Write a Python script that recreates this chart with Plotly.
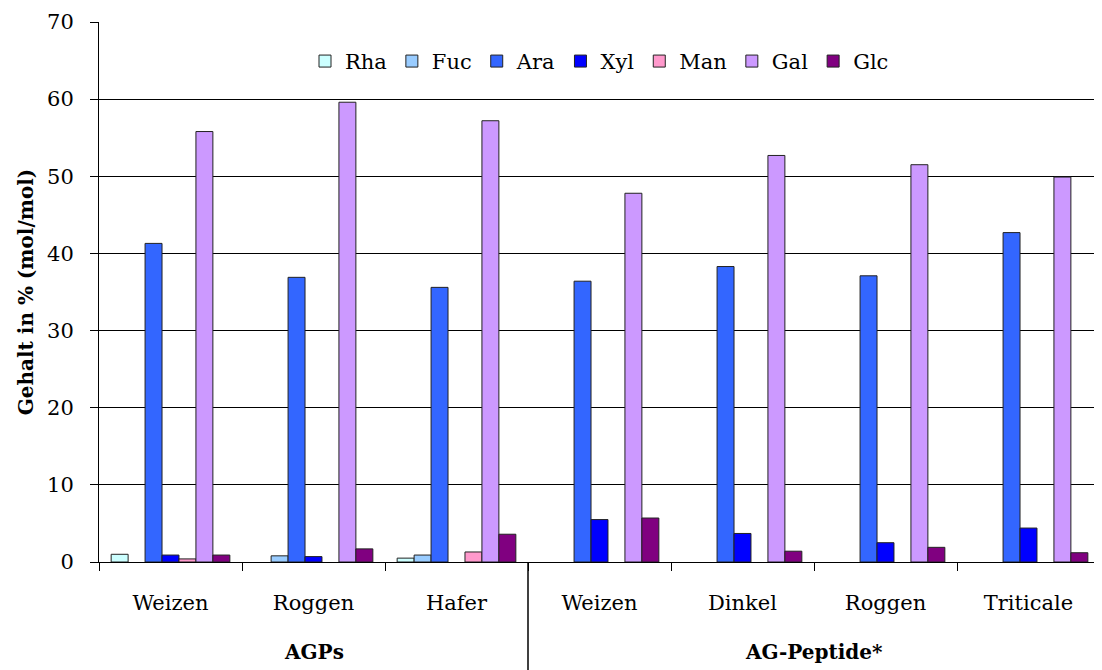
import plotly.graph_objects as go

groups = ["AGPs", "AGPs", "AGPs", "AG-Peptide*", "AG-Peptide*", "AG-Peptide*", "AG-Peptide*"]
names = ["Weizen", "Roggen", "Hafer", "Weizen", "Dinkel", "Roggen", "Triticale"]

series = ["Rha", "Fuc", "Ara", "Xyl", "Man", "Gal", "Glc"]
Rha = [1.0, None, 0.5, None, None, None, None]
Fuc = [None, 0.8, 0.9, None, None, None, None]
Ara = [41.3, 36.9, 35.6, 36.4, 38.3, 37.1, 42.7]
Xyl = [0.9, 0.7, None, 5.5, 3.7, 2.5, 4.4]
Man = [0.4, None, 1.3, None, None, None, None]
Gal = [55.8, 59.6, 57.2, 47.8, 52.7, 51.5, 49.9]
Glc = [0.9, 1.7, 3.6, 5.7, 1.4, 1.9, 1.2]
values = [Rha, Fuc, Ara, Xyl, Man, Gal, Glc]
colors = ["#CCFFFF", "#99CCFF", "#3366FF", "#0000FF", "#FF99CC", "#CC99FF", "#800080"]

keys = [f"{g}|{n}|{i}" for i, (g, n) in enumerate(zip(groups, names))]

FONT = "DejaVu Serif"
FS = 21

fig = go.Figure()
for s, v, c in zip(series, values, colors):
    fig.add_trace(go.Bar(
        name=s, x=keys, y=v,
        marker=dict(color=c, line=dict(color="#222222", width=1)),
    ))

fig.update_layout(
    width=1094, height=662,
    margin=dict(l=91, r=2, t=14, b=108, autoexpand=False),
    paper_bgcolor="white", plot_bgcolor="white",
    barmode="group", bargap=0.17, bargroupgap=0,
    font=dict(family=FONT, size=FS, color="black"),
    showlegend=True,
    legend=dict(orientation="h", x=0.5, xanchor="center", y=0.927, yanchor="middle",
                bgcolor="rgba(0,0,0,0)", font=dict(size=FS, family=FONT), itemwidth=30,
                tracegroupgap=0),
)

fig.update_xaxes(
    type="category", tickmode="array", tickvals=keys, ticktext=names,
    tickson="boundaries", ticks="outside", ticklen=8, tickcolor="black",
    showline=True, linecolor="black", linewidth=1, showgrid=False, automargin=False,
    tickfont=dict(size=FS, family=FONT), ticklabelstandoff=22,
)
fig.update_yaxes(
    range=[0, 70], dtick=10, ticks="outside", ticklen=8, tickcolor="black",
    showline=True, linecolor="black", linewidth=1, automargin=False,
    showgrid=True, gridcolor="black", gridwidth=1, zeroline=False,
    tickfont=dict(size=FS, family=FONT), ticklabelstandoff=12,
    title=dict(text="<b>Gehalt in % (mol/mol)</b>", font=dict(size=20, family=FONT), standoff=8),
)

# separator between the two groups
fig.add_shape(type="line", xref="x", yref="paper", x0=2.5, x1=2.5, y0=0, y1=-0.2,
              line=dict(color="black", width=1.5))

group_labels = ["AGPs", "AG-Peptide*"]
group_pos = [1, 4.5]
for lab, pos in zip(group_labels, group_pos):
    fig.add_annotation(text=f"<b>{lab}</b>", x=pos, xref="x", y=-0.167, yref="paper",
                       showarrow=False, font=dict(size=20, family=FONT), yanchor="middle")

fig.write_html("out.html")
